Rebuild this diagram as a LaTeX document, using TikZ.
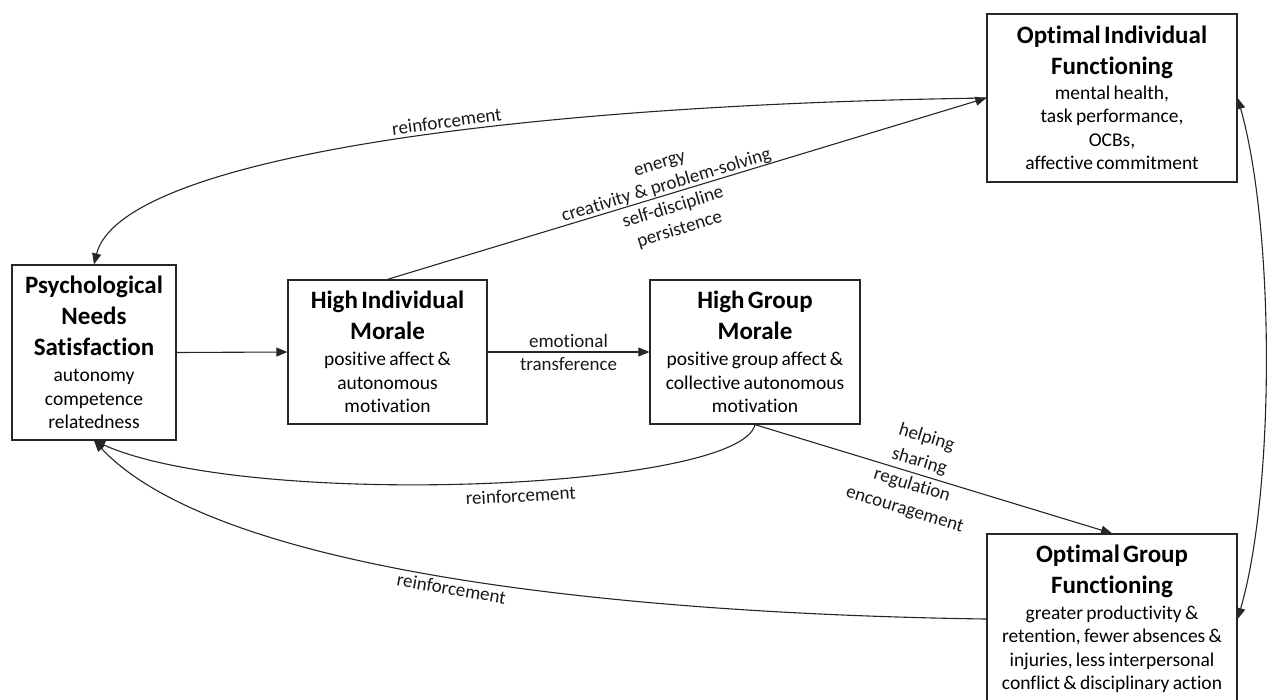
\documentclass[tikz,border=0pt]{standalone}
\usepackage{fontspec}
\setmainfont{Carlito}[Ligatures=CommonOff]
\usetikzlibrary{arrows.meta}
\newcommand{\ttlfont}{\fontsize{25}{31}\selectfont\bfseries}
\newcommand{\bdyfont}{\fontsize{19.5}{23.5}\selectfont}
\newcommand{\lblfont}{\fontsize{19}{23}\selectfont}
\newcommand{\lblwidefont}{\fontsize{19}{25}\selectfont}
\begin{document}
\begin{tikzpicture}[x=1pt,y=-1pt,
  box/.style={draw=black!85, line width=1.3pt, inner sep=0pt, align=center, anchor=center},
  arr/.style={line width=1.1pt, draw=black!85, -{Triangle[length=11pt,width=9pt]}},
  dbl/.style={line width=1.1pt, draw=black!85, {Triangle[length=11pt,width=9pt]}-{Triangle[length=11pt,width=9pt]}},
  lbl/.style={font=\lblfont, align=center, inner sep=1pt, text=black!90}]
\useasboundingbox (0,0) rectangle (1268,699);
\clip (0,0) rectangle (1268,699);

\node[box, minimum width=164pt, minimum height=175pt, text width=156pt] (psych) at (94,352.5)
  {{\ttlfont Psychological\\Needs\\Satisfaction\par}\vspace{3pt}{\bdyfont autonomy\\competence\\relatedness\par}};
\node[box, minimum width=199pt, minimum height=144pt, text width=190pt] (him) at (387.5,352)
  {{\ttlfont High Individual\\Morale\par}\vspace{3pt}{\bdyfont positive affect \&\\autonomous\\motivation\par}};
\node[box, minimum width=210pt, minimum height=144pt, text width=204pt] (hgm) at (755,352)
  {{\ttlfont High Group\\Morale\par}\vspace{3pt}{\bdyfont positive group affect \&\\collective autonomous\\motivation\par}};
\node[box, minimum width=250pt, minimum height=168pt, text width=244pt] (oif) at (1112,98)
  {{\ttlfont Optimal Individual\\Functioning\par}\vspace{1pt}{\bdyfont mental health,\\task performance,\\OCBs,\\affective commitment\par}};
\node[box, minimum width=250pt, minimum height=170pt, text width=244pt] (ogf) at (1112,619)
  {{\ttlfont Optimal Group\\Functioning\par}\vspace{2pt}{\bdyfont greater productivity \&\\retention, fewer absences \&\\injuries, less interpersonal\\conflict \& disciplinary action\par}};

\draw[arr] (psych.east) -- (him.west);
\draw[arr] (him.east) -- (hgm.west) node[lbl, midway] {emotional\\transference};
\draw[arr] (him.north) -- (oif.west)
  node[lbl, pos=0.47, sloped, yshift=-4.5pt] {energy\\creativity \& problem-solving\\self-discipline\\persistence};
\draw[arr] (oif.west) .. controls (500,105) and (120,160) .. (psych.north)
  node[lbl, pos=0.42, sloped, above=3pt] {reinforcement};
\draw[arr] (hgm.south) -- (ogf.north)
  node[lbl, font=\lblwidefont, pos=0.45, sloped] {helping\\sharing\\regulation\\encouragement};
\draw[arr] (hgm.south) .. controls (740,490) and (250,510) .. (psych.south)
  node[lbl, pos=0.45, sloped, below=6pt] {reinforcement};
\draw[arr] (ogf.west) .. controls (700,615) and (230,585) .. (psych.south)
  node[lbl, pos=0.53, sloped, below=3pt] {reinforcement};
\draw[dbl] (oif.east) .. controls (1275,230) and (1275,490) .. (ogf.east);
\end{tikzpicture}
\end{document}
